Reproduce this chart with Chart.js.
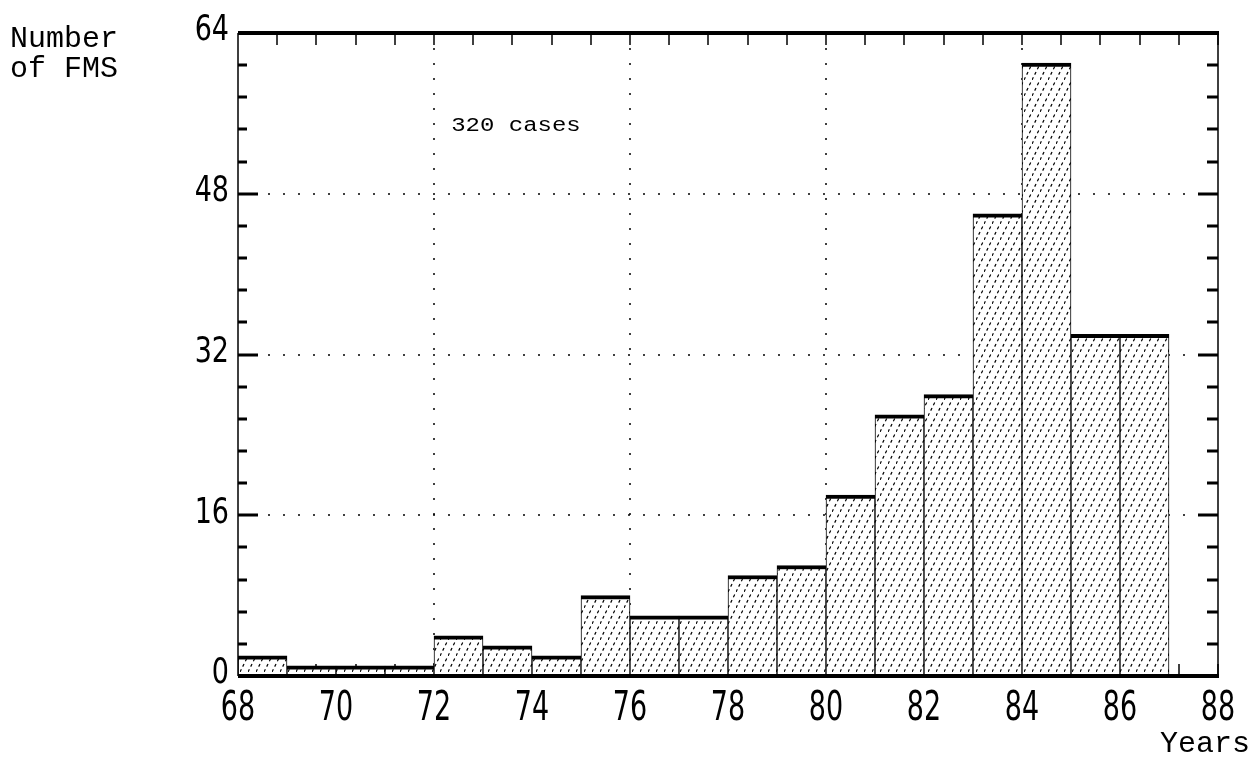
<!DOCTYPE html>
<html>
<head>
<meta charset="utf-8">
<script src="https://cdn.jsdelivr.net/npm/chart.js@4/dist/chart.umd.min.js"></script>
<style>
  html, body { margin: 0; padding: 0; background: #fff; }
  #wrap { width: 1258px; height: 768px; position: relative; }
</style>
</head>
<body>
<div id="wrap"><canvas id="fmsChart" width="1258" height="768"></canvas></div>
<script>
// histogram data: one bar per year (start of the year bin)
const years = [68, 69, 70, 71, 72, 73, 74, 75, 76, 77, 78, 79, 80, 81, 82, 83, 84, 85, 86];
const counts = [2, 1, 1, 1, 4, 3, 2, 8, 6, 6, 10, 11, 18, 26, 28, 46, 61, 34, 34];
const yTicks = [0, 16, 32, 48, 64];
const xGridYears = [72, 76, 80, 84];
const noteText = '320 cases';

const tickFont = "'Liberation Sans Narrow', 'DejaVu Sans Condensed', sans-serif";
const monoFont = "'Liberation Mono', 'DejaVu Sans Mono', monospace";

// hatch pattern for bars, steep dashed "/" lines
function makeHatch() {
    const c = document.createElement('canvas');
    c.width = 8; c.height = 16;
    const g = c.getContext('2d');
    g.fillStyle = '#fff';
    g.fillRect(0, 0, 8, 16);
    g.strokeStyle = '#000';
    g.lineWidth = 1.2;
    g.setLineDash([3, 3]);
    g.beginPath();
    g.moveTo(0, 16); g.lineTo(8, 0);
    g.stroke();
    return document.getElementById('fmsChart').getContext('2d').createPattern(c, 'repeat');
}

const barData = years.map((yr, i) => ({x: yr + 0.5, y: counts[i]}));

// draw text stretched vertically (plotter-like narrow digits)
function tallText(ctx, txt, px, py, align, sy) {
    ctx.save();
    ctx.translate(px, py);
    ctx.scale(1, sy);
    ctx.textAlign = align;
    ctx.textBaseline = 'middle';
    ctx.fillText(txt, 0, 0);
    ctx.restore();
}

const gridPlugin = {
    id: 'gridPlugin',
    // dotted grid + bottom ticks, under the bars
    beforeDatasetsDraw(chart) {
        const {ctx, chartArea: a, scales: {x, y}} = chart;
        ctx.save();
        ctx.strokeStyle = '#000';
        ctx.lineWidth = 1.5;
        ctx.setLineDash([2, 13]);
        xGridYears.forEach(v => {
            const px = Math.round(x.getPixelForValue(v));
            ctx.beginPath(); ctx.moveTo(px, a.top); ctx.lineTo(px, a.bottom); ctx.stroke();
        });
        [16, 32, 48].forEach(v => {
            const py = Math.round(y.getPixelForValue(v));
            ctx.beginPath(); ctx.moveTo(a.left, py); ctx.lineTo(a.right, py); ctx.stroke();
        });
        ctx.setLineDash([]);
        for (let v = 68.8; v < 88; v += 0.8) {
            const px = Math.round(x.getPixelForValue(v));
            ctx.beginPath(); ctx.moveTo(px, a.bottom); ctx.lineTo(px, a.bottom - 12); ctx.stroke();
        }
        ctx.restore();
    },
    afterDatasetsDraw(chart) {
        const {ctx, chartArea: a, scales: {x, y}} = chart;
        ctx.save();
        ctx.strokeStyle = '#000';
        // frame
        ctx.lineWidth = 1.5;
        ctx.beginPath();
        ctx.moveTo(a.left, a.top); ctx.lineTo(a.left, a.bottom);
        ctx.moveTo(a.right, a.top); ctx.lineTo(a.right, a.bottom);
        ctx.stroke();
        ctx.lineWidth = 4;
        ctx.beginPath();
        ctx.moveTo(a.left, a.top); ctx.lineTo(a.right + 1, a.top);
        ctx.moveTo(a.left, a.bottom); ctx.lineTo(a.right + 1, a.bottom);
        ctx.stroke();
        // top ticks
        ctx.lineWidth = 1.5;
        for (let v = 68.8; v < 88; v += 0.8) {
            const px = Math.round(x.getPixelForValue(v));
            ctx.beginPath(); ctx.moveTo(px, a.top); ctx.lineTo(px, a.top + 12); ctx.stroke();
        }
        // left and right ticks
        ctx.lineWidth = 3;
        for (let k = 1; k < 20; k++) {
            const py = Math.round(y.getPixelForValue(k * 3.2));
            const major = k % 5 === 0;
            ctx.beginPath();
            ctx.moveTo(a.left, py); ctx.lineTo(a.left + (major ? 20 : 9), py);
            ctx.moveTo(a.right, py); ctx.lineTo(a.right - (major ? 20 : 11), py);
            ctx.stroke();
        }
        // tick labels from the scales
        ctx.fillStyle = '#000';
        ctx.font = "30px " + tickFont;
        x.ticks.forEach(t => tallText(ctx, String(t.value), x.getPixelForValue(t.value), a.bottom + 33, 'center', 1.35));
        y.ticks.forEach(t => tallText(ctx, String(t.value), a.left - 9, y.getPixelForValue(t.value) - 2, 'right', 1.2));
        // note
        ctx.font = "20px " + monoFont;
        ctx.save();
        ctx.translate(x.getPixelForValue(72.35), y.getPixelForValue(54.8));
        ctx.scale(1.2, 1.05);
        ctx.textBaseline = 'middle';
        ctx.fillText(noteText, 0, 0);
        ctx.restore();
        // axis titles
        ctx.font = "30px " + monoFont;
        ctx.textBaseline = 'alphabetic';
        ctx.textAlign = 'left';
        ctx.fillText('Number', 10, 47);
        ctx.fillText('of FMS', 10, 77);
        ctx.fillText('Years', 1160, 752);
        ctx.restore();
    }
};

const ctx = document.getElementById('fmsChart').getContext('2d');
const fmsChart = new Chart(ctx, {
    type: 'bar',
    data: {
        datasets: [{
            label: 'Number of FMS',
            data: barData,
            backgroundColor: makeHatch(),
            borderColor: '#000',
            borderWidth: {top: 4, left: 1, right: 1, bottom: 0},
            borderSkipped: 'start',
            barPercentage: 1,
            categoryPercentage: 1
        }]
    },
    options: {
        responsive: false,
        animation: false,
        layout: {padding: {left: 0, top: 33, right: 40, bottom: 0}},
        plugins: {
            legend: {display: false},
            tooltip: {enabled: false}
        },
        scales: {
            x: {
                type: 'linear',
                offset: false,
                min: 68,
                max: 88,
                grid: {display: false, drawTicks: false},
                border: {display: false},
                ticks: {stepSize: 2, display: false},
                afterFit(scale) { scale.height = 92; }
            },
            y: {
                min: 0,
                max: 64,
                grid: {display: false, drawTicks: false},
                border: {display: false},
                afterBuildTicks(scale) { scale.ticks = yTicks.map(v => ({value: v})); },
                ticks: {display: false},
                afterFit(scale) { scale.width = 238; }
            }
        }
    },
    plugins: [gridPlugin]
});
</script>
</body>
</html>
